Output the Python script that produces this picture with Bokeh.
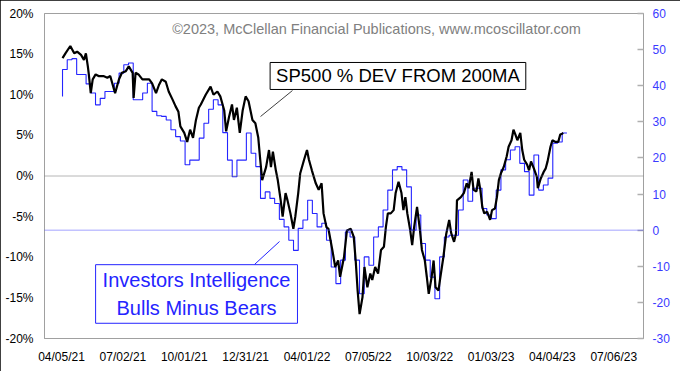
import numpy as np
from bokeh.plotting import figure
from bokeh.models import (Range1d, LinearAxis, FixedTicker, Span, Label, Arrow,
                          InlineStyleSheet)
from bokeh.embed import file_html
from bokeh.resources import INLINE

# ---------------- data ----------------
# x axis: trading-session number counted from 04/05/21
x_tick_sessions = [0, 63, 126, 189, 252, 315, 378, 441, 504, 567]
x_tick_labels = ["04/05/21", "07/02/21", "10/01/21", "12/31/21", "04/01/22",
                 "07/05/22", "10/03/22", "01/03/23", "04/04/23", "07/06/23"]
pct_ticks = [-20, -15, -10, -5, 0, 5, 10, 15, 20]
pct_tick_labels = ["-20%", "-15%", "-10%", "-5%", "0%", "5%", "10%", "15%", "20%"]
ii_ticks = [-30, -20, -10, 0, 10, 20, 30, 40, 50, 60]
ii_tick_labels = ["-30", "-20", "-10", "0", "10", "20", "30", "40", "50", "60"]

# SP500 % deviation from 200-day MA (session number, percent)
sp_session = [1, 4, 9, 13, 16, 20, 23, 25, 27, 28, 30, 32, 35, 38, 43, 47, 50, 54, 55, 59,
              62, 66, 69, 73, 74, 76, 79, 83, 86, 90, 93, 97, 100, 103, 107, 110, 114, 117,
              120, 122, 126, 129, 132, 135, 138, 141, 143, 148, 153, 156, 160, 163, 167, 169,
              172, 175, 177, 180, 183, 186, 189, 192, 196, 199, 202, 204, 206, 210, 213, 215,
              217, 220, 222, 225, 227, 230, 232, 235, 238, 240, 243, 245, 249, 252, 254, 257,
              261, 264, 267, 269, 272, 274, 278, 281, 284, 286, 290, 293, 297, 300, 302, 304,
              306, 309, 311, 314, 317, 319, 322, 325, 328, 331, 333, 335, 338, 341, 343, 346,
              349, 351, 353, 355, 358, 360, 362, 365, 368, 370, 373, 375, 377, 380, 382, 384,
              387, 389, 392, 395, 398, 400, 403, 405, 406, 410, 413, 416, 418, 421, 423, 426,
              428, 430, 432, 434, 437, 440, 442, 445, 447, 449, 451, 454, 457, 459, 462, 464,
              466, 468, 471, 473, 475, 478, 480, 482, 485, 488, 489, 492, 495, 497, 499, 502,
              504, 507, 510, 512, 514, 515]
sp_dev_pct = [14.5, 15.1, 16.0, 15.1, 15.3, 14.9, 14.3, 15.1, 13.5, 12.5, 10.2, 11.9, 12.5,
              12.3, 12.3, 12.1, 12.3, 10.6, 10.2, 11.9, 12.7, 12.9, 13.5, 12.7, 9.6, 12.7,
              12.5, 11.9, 11.9, 11.9, 11.4, 10.2, 11.2, 11.9, 11.6, 10.4, 9.4, 8.6, 7.9, 6.1,
              5.3, 4.2, 5.7, 4.7, 6.9, 8.4, 8.8, 10.0, 11.0, 10.0, 10.4, 9.8, 8.1, 5.5, 7.3,
              8.8, 6.9, 8.4, 5.3, 8.1, 9.8, 9.2, 6.9, 6.5, 4.7, 2.0, -0.5, 1.1, 3.2, 1.1, 3.0,
              0.7, -0.5, -3.0, -5.0, -2.1, -3.0, -4.6, -6.5, -5.0, -2.1, 0.3, 2.0, 3.2, 2.0,
              0.7, -0.9, -1.7, -0.9, -4.6, -6.3, -6.5, -9.1, -11.2, -10.4, -12.4, -10.0, -6.7,
              -6.5, -7.5, -10.4, -14.1, -17.0, -14.9, -11.2, -13.7, -12.0, -12.8, -11.2, -12.0,
              -9.1, -8.7, -6.3, -4.6, -4.6, -4.2, -2.1, -0.7, -2.1, -4.2, -2.6, -4.6, -6.7,
              -8.5, -6.3, -3.8, -6.7, -9.1, -10.4, -12.4, -14.5, -12.4, -10.4, -13.7, -14.1,
              -12.4, -10.0, -7.1, -5.4, -7.0, -8.1, -7.1, -3.0, -2.6, -2.1, -0.9, -1.5, 0.5,
              -1.7, -1.9, -0.3, -1.7, -3.8, -4.6, -4.4, -5.4, -4.2, -4.0, -2.6, -0.5, 0.3, 1.1,
              2.4, 3.6, 4.4, 5.7, 5.1, 4.4, 5.3, 3.2, 2.0, 1.4, 0.7, 1.8, 0.9, -0.1, -1.5, -0.3,
              0.5, 0.9, 1.8, 3.6, 4.4, 4.2, 4.2, 5.1, 5.2, 5.3]

# Investors Intelligence bulls minus bears, weekly
ii_bulls_minus_bears = [37.0, 44.5, 47.2, 47.5, 43.1, 43.1, 40.5, 38.0, 34.7, 36.5,
                        38.4, 38.4, 40.7, 43.5, 45.8, 46.3, 36.1, 36.1, 38.0, 40.7,
                        32.9, 31.7, 31.5, 30.5, 27.8, 25.9, 24.7, 18.1, 19.4, 19.4,
                        25.5, 29.6, 33.5, 36.1, 34.7, 27.0, 19.4, 14.8, 19.4, 19.4,
                        26.9, 21.3, 17.6, 8.8, 10.6, 8.8, 7.4, 3.0, 0.9, -2.8,
                        -5.6, 0.5, 2.8, 8.3, 4.6, 0.9, 1.9, -2.8, -10.2, -14.8,
                        -8.3, -0.5, -1.9, -8.3, -17.6, -7.4, -9.7, -1.9, 0.9, 5.6,
                        11.1, 16.7, 17.6, 16.7, 12.0, 0.0, 4.2, -3.7, -8.3, -13.0,
                        -19.0, -7.4, -1.9, -1.4, -1.4, 5.6, 13.9, 8.0, 11.6, 11.6,
                        6.0, 4.2, 3.2, 11.1, 16.7, 19.5, 22.2, 23.1, 18.5, 16.2,
                        9.7, 20.8, 11.1, 12.5, 14.4, 24.1, 24.4, 26.9]
ii_first_session = 1
sessions_per_week = 4.84

ii_session = [ii_first_session + sessions_per_week * k for k in range(len(ii_bulls_minus_bears))]

# ---------------- figure ----------------
FONT = "Liberation Sans"
BLUE = "#2424ff"

p = figure(width=680, height=371, output_backend="svg", toolbar_location=None,
           x_range=Range1d(-17.5, 597.5), y_range=Range1d(-20, 20),
           min_border_left=44, min_border_right=37, min_border_top=13, min_border_bottom=33)
p.extra_y_ranges = {"ii": Range1d(-30, 60)}
p.grid.visible = False
p.background_fill_color = "white"
p.border_fill_color = "white"
p.outline_line_color = "#a0a0a0"
p.outline_line_width = 1
p.stylesheets = [InlineStyleSheet(css=":host { outline: 1px solid black; outline-offset: -1px; }")]

# left axis
ya = p.yaxis[0]
ya.ticker = FixedTicker(ticks=pct_ticks)
ya.major_label_overrides = {t: l for t, l in zip(pct_ticks, pct_tick_labels)}
ya.major_tick_in = 0
ya.major_tick_out = 0
ya.minor_tick_in = 0
ya.minor_tick_out = 0
ya.axis_line_color = "#a0a0a0"
ya.major_label_standoff = 11
ya.major_label_text_font = FONT
ya.major_label_text_font_size = "12px"
ya.major_label_text_color = "black"

# bottom axis
xa = p.xaxis[0]
xa.ticker = FixedTicker(ticks=x_tick_sessions)
xa.major_label_overrides = {t: l for t, l in zip(x_tick_sessions, x_tick_labels)}
xa.major_tick_in = 0
xa.major_tick_out = 0
xa.minor_tick_in = 0
xa.minor_tick_out = 0
xa.axis_line_color = "#a0a0a0"
xa.major_label_standoff = 11
xa.major_label_text_font = FONT
xa.major_label_text_font_size = "12px"
xa.major_label_text_color = "black"

# right axis
ra = LinearAxis(y_range_name="ii", ticker=FixedTicker(ticks=ii_ticks))
ra.major_label_overrides = {t: l for t, l in zip(ii_ticks, ii_tick_labels)}
ra.major_tick_in = 6
ra.major_tick_out = 0
ra.minor_tick_in = 0
ra.minor_tick_out = 0
ra.major_tick_line_color = "#b0b0b0"
ra.major_tick_line_width = 1.5
ra.axis_line_color = "#a0a0a0"
ra.major_label_standoff = 9
ra.major_label_text_font = FONT
ra.major_label_text_font_size = "12px"
ra.major_label_text_color = "#3a3aff"
p.add_layout(ra, "right")

# zero lines
p.add_layout(Span(location=0, dimension="width", line_color="#6e6e6e",
                  line_dash="1 1", line_width=1))
p.add_layout(Span(location=0, dimension="width", y_range_name="ii", line_color="#4646ff",
                  line_dash="1 1", line_width=1))

# series
p.step(ii_session, ii_bulls_minus_bears, mode="before", y_range_name="ii",
       line_color=BLUE, line_width=1.1)
p.line(sp_session, sp_dev_pct, line_color="black", line_width=2.2)

# annotations
p.add_layout(Label(x=323.4, y=18.15,
                   text="\u00a92023, McClellan Financial Publications, www.mcoscillator.com",
                   text_align="center", text_baseline="middle", text_font=FONT,
                   text_font_size="14.5px", text_color="#808080"))

p.add_layout(Arrow(x_start=204.3, y_start=7.32, x_end=237.1, y_end=10.52, end=None,
                   line_color="#404040", line_width=1))
p.add_layout(Label(x=345.4, y=12.31, text="SP500 % DEV FROM 200MA",
                   text_align="center", text_baseline="middle", text_font=FONT,
                   text_font_size="18.5px", text_color="black",
                   background_fill_color="white", border_line_color="black",
                   border_line_width=1, padding=(6, 3)))

p.add_layout(Arrow(x_start=198.1, y_start=-10.89, x_end=223.8, y_end=-8.06, end=None,
                   line_color=BLUE, line_width=1))
p.add_layout(Label(x=138.6, y=-14.52, text="Investors Intelligence\nBulls Minus Bears",
                   text_align="center", text_baseline="middle", text_font=FONT,
                   text_font_size="20px", text_color=BLUE, text_line_height=1.3,
                   background_fill_color="white", border_line_color=BLUE,
                   border_line_width=1, padding=(7, 4)))

open("out.html", "w").write(file_html(p, INLINE))
